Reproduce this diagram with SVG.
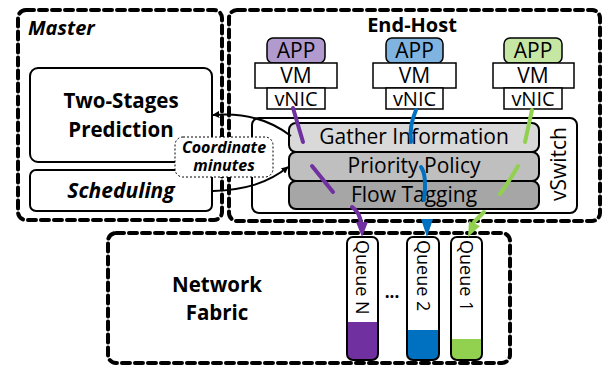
<svg xmlns="http://www.w3.org/2000/svg" width="607" height="367" viewBox="0 0 607 367">
<defs>
<style>
.dash{fill:none;stroke:#000;stroke-width:4;stroke-dasharray:8 5;stroke-linecap:round}
.box{fill:#fff;stroke:#000;stroke-width:2}
.t{font-family:"Open Sans","DejaVu Sans",sans-serif;fill:#000}
.b{font-weight:bold}
.i{font-style:italic}
.conn{fill:none;stroke-width:4;stroke-linecap:round}
.arr{fill:none;stroke:#000;stroke-width:2}
.hb{stroke:#000;stroke-width:1.5}
</style>
<marker id="ah" viewBox="0 0 10 10" refX="9" refY="5" markerWidth="7" markerHeight="7" orient="auto" markerUnits="userSpaceOnUse">
<path d="M0,0 L10,5 L0,10 z" fill="#000"/>
</marker>
</defs>
<rect width="607" height="367" fill="#fff"/>

<g id="master">
<rect class="dash" x="18" y="10" width="204" height="210" rx="8"/>
<text class="t b i" x="28" y="35" font-size="20">Master</text>
</g>
<g id="endhost">
<rect class="dash" x="229" y="10" width="371" height="211" rx="8"/>
<text class="t b" x="412" y="32" font-size="20" text-anchor="middle">End-Host</text>
</g>
<g id="fabric">
<rect class="dash" x="108" y="233" width="402" height="130" rx="8"/>
<text class="t b" x="217" y="292" font-size="20.5" text-anchor="middle">Network</text>
<text class="t b" x="217" y="320" font-size="20.5" text-anchor="middle">Fabric</text>
</g>

<g id="prediction">
<rect class="box" x="30" y="68" width="182" height="94" rx="8"/>
<text class="t b" x="121" y="108" font-size="20.5" text-anchor="middle">Two-Stages</text>
<text class="t b" x="121" y="137" font-size="20.5" text-anchor="middle">Prediction</text>
</g>
<g id="scheduling">
<rect class="box" x="30" y="170" width="182" height="41" rx="6"/>
<text class="t b i" x="121" y="198" font-size="21" text-anchor="middle">Scheduling</text>
</g>

<g id="vswitch">
<rect class="box" x="252" y="118" width="325" height="95" rx="7"/>
<text class="t" x="559" y="164" font-size="21" text-anchor="middle" transform="rotate(-90 559 164)" dy="7">vSwitch</text>
</g>
<g id="gather">
<rect x="289" y="123" width="250" height="29" rx="7" fill="#d9d9d9" stroke="#000" stroke-width="2"/>
<text class="t" x="414" y="144" font-size="21" text-anchor="middle">Gather Information</text>
</g>
<g id="priority">
<rect x="289" y="152" width="250" height="29" rx="7" fill="#bfbfbf" stroke="#000" stroke-width="2"/>
<text class="t" x="414" y="173" font-size="21" text-anchor="middle">Priority Policy</text>
</g>
<g id="tagging">
<rect x="289" y="181" width="250" height="28" rx="7" fill="#a6a6a6" stroke="#000" stroke-width="2"/>
<text class="t" x="414" y="202" font-size="21" text-anchor="middle">Flow Tagging</text>
</g>

<g id="host1">
<rect class="hb" x="267" y="38" width="58" height="25" rx="6" fill="#b19acd"/>
<text class="t" x="296" y="58" font-size="21" text-anchor="middle">APP</text>
<rect class="hb" x="255" y="63" width="82" height="25" fill="#fff"/>
<text class="t" x="296" y="83" font-size="21" text-anchor="middle">VM</text>
<rect class="hb" x="267" y="88" width="58" height="21" fill="#fff"/>
<text class="t" x="296" y="106" font-size="20" text-anchor="middle">vNIC</text>
</g>
<g id="host2">
<rect class="hb" x="386" y="38" width="57" height="25" rx="6" fill="#7fb3e0"/>
<text class="t" x="414.5" y="58" font-size="21" text-anchor="middle">APP</text>
<rect class="hb" x="373" y="63" width="83" height="25" fill="#fff"/>
<text class="t" x="414.5" y="83" font-size="21" text-anchor="middle">VM</text>
<rect class="hb" x="386" y="88" width="57" height="21" fill="#fff"/>
<text class="t" x="414.5" y="106" font-size="20" text-anchor="middle">vNIC</text>
</g>
<g id="host3">
<rect class="hb" x="504" y="38" width="58" height="25" rx="6" fill="#c6e6a4"/>
<text class="t" x="533" y="58" font-size="21" text-anchor="middle">APP</text>
<rect class="hb" x="493" y="63" width="81" height="25" fill="#fff"/>
<text class="t" x="533" y="83" font-size="21" text-anchor="middle">VM</text>
<rect class="hb" x="504" y="88" width="58" height="21" fill="#fff"/>
<text class="t" x="533" y="106" font-size="20" text-anchor="middle">vNIC</text>
</g>

<g id="queueN">
<rect x="347" y="237" width="31" height="123" rx="6" fill="#fff"/>
<path d="M347,322 H378 V354 a6,6 0 0 1 -6,6 H353 a6,6 0 0 1 -6,-6 z" fill="#7030a0"/>
<rect x="347" y="237" width="31" height="123" rx="6" fill="none" stroke="#000" stroke-width="2"/>
<text class="t" x="362.5" y="240" font-size="18" transform="rotate(90 362.5 240)" dy="6.5">Queue N</text>
</g>
<g id="queue2">
<rect x="407" y="237" width="32" height="123" rx="6" fill="#fff"/>
<path d="M407,330 H439 V354 a6,6 0 0 1 -6,6 H413 a6,6 0 0 1 -6,-6 z" fill="#0070c0"/>
<rect x="407" y="237" width="32" height="123" rx="6" fill="none" stroke="#000" stroke-width="2"/>
<text class="t" x="423" y="240" font-size="18" transform="rotate(90 423 240)" dy="6.5">Queue 2</text>
</g>
<g id="queue1">
<rect x="451" y="237" width="31" height="123" rx="6" fill="#fff"/>
<path d="M451,339 H482 V354 a6,6 0 0 1 -6,6 H457 a6,6 0 0 1 -6,-6 z" fill="#92d050"/>
<rect x="451" y="237" width="31" height="123" rx="6" fill="none" stroke="#000" stroke-width="2"/>
<text class="t" x="466.5" y="240" font-size="18" transform="rotate(90 466.5 240)" dy="6.5">Queue 1</text>
</g>
<text class="t b" x="392" y="298" font-size="17" text-anchor="middle">...</text>

<g id="connectors">
<path class="arr" d="M291,136 C270,120 245,112 213,115" marker-end="url(#ah)"/>
<path class="arr" d="M213,191 C245,190 268,183 288,167" marker-end="url(#ah)"/>
<path class="conn" stroke="#7030a0" d="M293,108 L303,142"/>
<path class="conn" stroke="#7030a0" d="M312,166 L333,192"/>
<path class="conn" stroke="#7030a0" d="M352,207 Q360,212 361,224"/>
<path d="M356,222 L368,222 L362,237 z" fill="#7030a0"/>
<path class="conn" stroke="#0070c0" d="M416,110 Q409,126 411,142"/>
<path class="conn" stroke="#0070c0" d="M421,167 Q427,175 424,200"/>
<path d="M421,219 L433,219 L427,237 z" fill="#0070c0"/>
<path class="conn" stroke="#92d050" d="M532,110 L525,142"/>
<path class="conn" stroke="#92d050" d="M518,166 Q510,180 500,194"/>
<path class="conn" stroke="#92d050" d="M484,212 L474,222"/>
<path d="M468,237 L469,221 L480,226 z" fill="#92d050"/>
</g>

<g id="coordinate">
<rect x="175" y="137" width="98" height="40" rx="8" fill="#fff" stroke="#000" stroke-width="1" stroke-dasharray="2 2"/>
<text class="t b i" x="224" y="153" font-size="16" text-anchor="middle">Coordinate</text>
<text class="t b i" x="224" y="171" font-size="16" text-anchor="middle">minutes</text>
</g>
</svg>
